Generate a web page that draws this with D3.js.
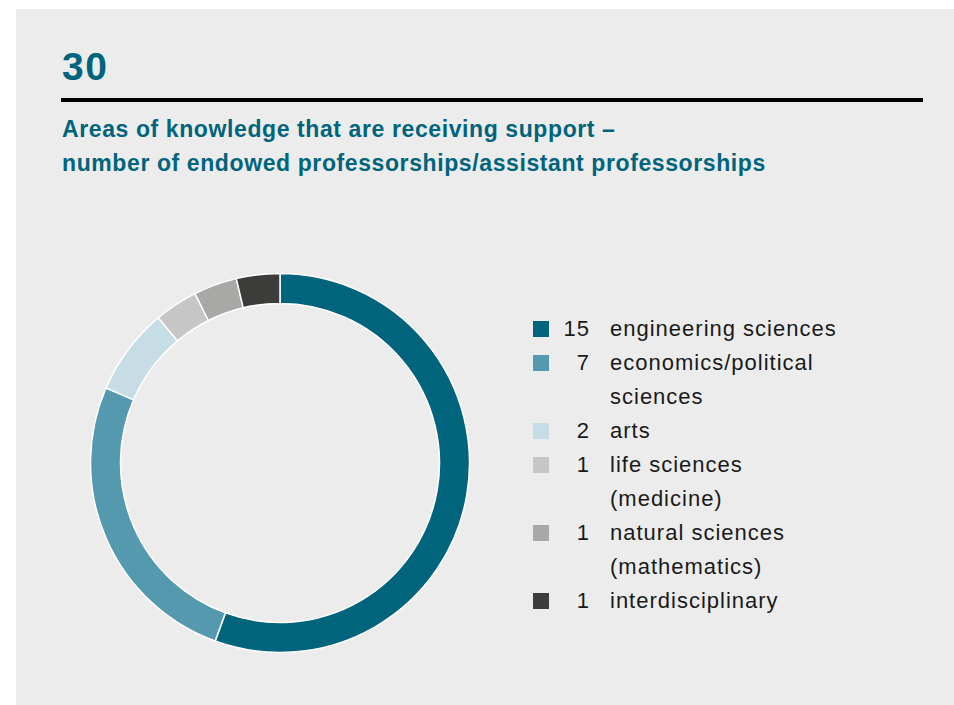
<!DOCTYPE html>
<html>
<head>
<meta charset="utf-8">
<script src="https://cdn.jsdelivr.net/npm/d3@7"></script>
<style>
  body { margin: 0; background: #fff; }
  svg text { font-family: "Liberation Sans", Arial, sans-serif; }
</style>
</head>
<body>
<div id="chart"></div>
<script>
  var width = 954,
      height = 705;

  var categories = ["engineering sciences", "economics/political sciences", "arts",
                    "life sciences (medicine)", "natural sciences (mathematics)", "interdisciplinary"];
  var counts = [15, 7, 2, 1, 1, 1];
  // legend labels wrapped like the original
  var legendLines = [["engineering sciences"], ["economics/political", "sciences"], ["arts"],
                     ["life sciences", "(medicine)"], ["natural sciences", "(mathematics)"], ["interdisciplinary"]];
  var colors = ["#00647d", "#5499ae", "#c7dde5", "#c6c6c6", "#a8a8a7", "#3c3c3b"];

  var teal = "#00647d";

  var svg = d3.select("#chart").append("svg")
      .attr("width", width)
      .attr("height", height);

  // grey panel
  svg.append("rect")
      .attr("x", 16)
      .attr("y", 9)
      .attr("width", width - 16)
      .attr("height", height - 9)
      .attr("fill", "#ececec");

  svg.append("text")
      .attr("x", 62)
      .attr("y", 80)
      .attr("fill", teal)
      .attr("font-size", 39)
      .attr("font-weight", "bold")
      .attr("letter-spacing", 1.5)
      .text("30");

  svg.append("rect")
      .attr("x", 61)
      .attr("y", 98)
      .attr("width", 862)
      .attr("height", 4)
      .attr("fill", "#000");

  svg.append("text")
      .attr("fill", teal)
      .attr("font-size", 23)
      .attr("font-weight", "bold")
      .attr("letter-spacing", 0.6)
      .selectAll("tspan")
      .data(["Areas of knowledge that are receiving support \u2013",
             "number of endowed professorships/assistant professorships"])
      .enter().append("tspan")
        .attr("x", 62)
        .attr("y", function(d, i) { return 137 + i * 34; })
        .text(function(d) { return d; });

  // donut
  var cx = 280, cy = 463, outer = 189.5, inner = 159.5;

  var pie = d3.pie().sort(null).value(function(d) { return d; });
  var arc = d3.arc().innerRadius(inner).outerRadius(outer);

  svg.append("g")
      .attr("transform", "translate(" + cx + "," + cy + ")")
    .selectAll("path")
      .data(pie(counts))
    .enter().append("path")
      .attr("d", arc)
      .attr("fill", function(d, i) { return colors[i]; })
      .attr("stroke", "#fff")
      .attr("stroke-width", 1.5);

  // legend
  var rowH = 34;
  var rows = [];
  var r = 0;
  legendLines.forEach(function(lines, i) {
    rows.push({ i: i, row: r, lines: lines });
    r += lines.length;
  });

  var legend = svg.append("g").attr("transform", "translate(533,328)");

  var item = legend.selectAll("g")
      .data(rows)
    .enter().append("g")
      .attr("transform", function(d) { return "translate(0," + d.row * rowH + ")"; });

  item.append("rect")
      .attr("x", 0)
      .attr("y", -7)
      .attr("width", 16)
      .attr("height", 16)
      .attr("fill", function(d) { return colors[d.i]; });

  item.append("text")
      .attr("x", 57)
      .attr("y", 8)
      .attr("text-anchor", "end")
      .attr("font-size", 22)
      .attr("letter-spacing", 1)
      .attr("fill", "#1a1a1a")
      .text(function(d) { return counts[d.i]; });

  item.append("text")
      .attr("font-size", 22)
      .attr("letter-spacing", 1)
      .attr("fill", "#1a1a1a")
      .selectAll("tspan")
      .data(function(d) { return d.lines; })
    .enter().append("tspan")
      .attr("x", 77)
      .attr("y", function(d, j) { return 8 + j * rowH; })
      .text(function(d) { return d; });
</script>
</body>
</html>
